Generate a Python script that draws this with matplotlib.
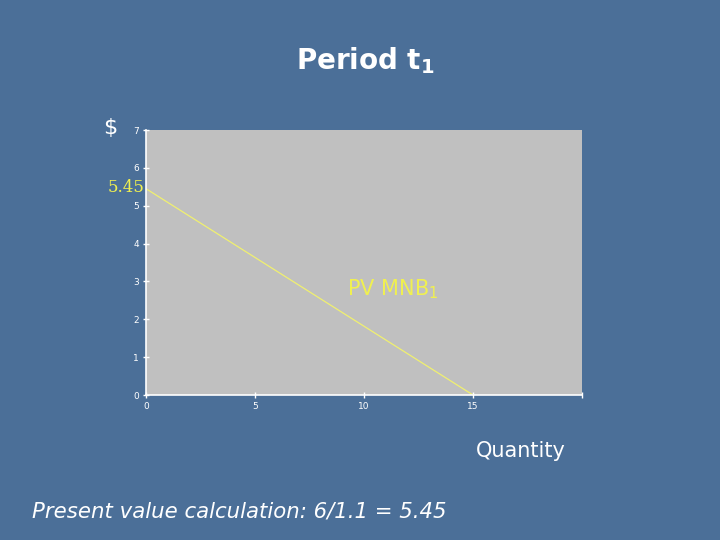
import numpy as np
import matplotlib.pyplot as plt

# demand curve (present value of marginal net benefit)
quantity = [0, 15]
pv_mnb = [5.45, 0]

x_ticks = [0, 5, 10, 15, 20]
x_tick_labels = ['0', '5', '10', '15', '']
y_ticks = [0, 1, 2, 3, 4, 5, 6, 7]

bg = '#4b6f98'
fig = plt.figure(figsize=(7.2, 5.4), dpi=100)
fig.patch.set_facecolor(bg)

ax = fig.add_axes([0.2028, 0.2685, 0.6056, 0.4907])
ax.set_facecolor('#c0c0c0')
ax.plot(quantity, pv_mnb, color='#f0f070', lw=0.9)
ax.set_xlim(0, 20)
ax.set_ylim(0, 7)
ax.set_xticks(x_ticks)
ax.set_xticklabels(x_tick_labels)
ax.set_yticks(y_ticks)
for s in ['top', 'right']:
    ax.spines[s].set_visible(False)
for s in ['left', 'bottom']:
    ax.spines[s].set_color('white')
    ax.spines[s].set_linewidth(1.2)
ax.tick_params(colors='white', labelsize=6.5, length=4, width=1, direction='inout', pad=3)

fig.text(0.507, 0.888, r'Period t$_\mathbf{1}$', color='white', fontsize=20,
         fontweight='bold', ha='center', va='center')
fig.text(0.153, 0.763, '$', color='white', fontsize=16, ha='center', va='center')
fig.text(0.175, 0.652, '5.45', color='#f0f050', fontsize=12, family='DejaVu Serif',
         ha='center', va='center')
ax.text(11.3, 2.8, r'PV MNB$_1$', color='#f0f050', fontsize=15, ha='center', va='center')
fig.text(0.723, 0.164, 'Quantity', color='white', fontsize=15, ha='center', va='center')
fig.text(0.045, 0.053, 'Present value calculation: 6/1.1 = 5.45', color='white',
         fontsize=15.3, style='italic', ha='left', va='center')

fig.savefig('out.png', dpi=100, facecolor=bg)
